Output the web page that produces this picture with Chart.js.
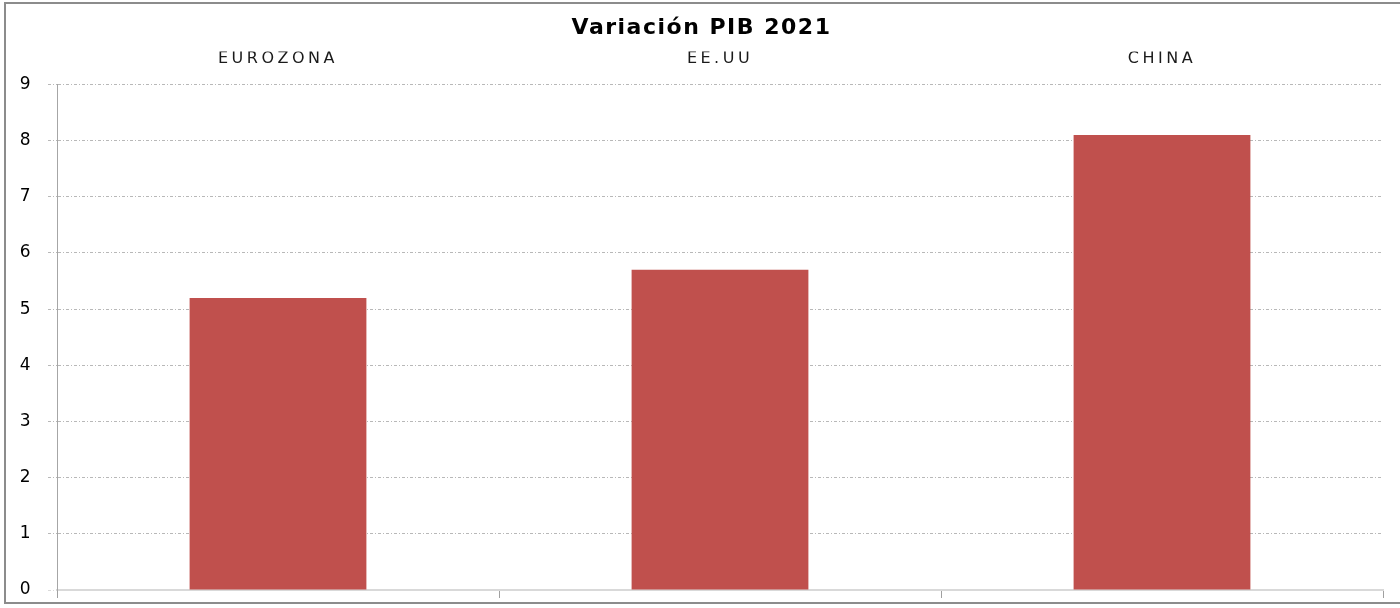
<!DOCTYPE html>
<html>
<head>
<meta charset="utf-8">
<title>Variación PIB 2021</title>
<script src="https://cdn.jsdelivr.net/npm/chart.js@4"></script>
<style>
    html, body { margin: 0; padding: 0; background: #fff; }
    #wrap { position: absolute; left: 0; top: 0; width: 1400px; height: 608px; }
    #frame {
        position: absolute; left: 4px; top: 2px; width: 1400px; height: 602px;
        border: 2px solid #8c8c8c; border-right: none; box-sizing: border-box;
        pointer-events: none;
    }
</style>
</head>
<body>
<div id="wrap">
    <canvas id="chart" width="1400" height="608"></canvas>
    <div id="frame"></div>
</div>
<script>
// ============================================
// Variación PIB 2021 - simple bar chart
// ============================================

const categories = ['EUROZONA', 'EE.UU', 'CHINA'];
const gdpChange = [5.2, 5.7, 8.1];
const yTicks = [0, 1, 2, 3, 4, 5, 6, 7, 8, 9];

const BAR_COLOR = '#C0504D';
const GRID_COLOR = '#b8b8b8';
const GRID_DASH = [3, 2, 1, 2];

// Letter spacing helper: title/y labels get a little, the top category labels more
const spacingPlugin = {
    id: 'spacing',
    beforeDraw(chart) {
        chart.ctx.letterSpacing = '1.5px';
    },
    afterDatasetsDraw(chart) {
        chart.ctx.letterSpacing = '3.5px';
    },
    afterDraw(chart) {
        chart.ctx.letterSpacing = '0px';
    }
};

const ctx = document.getElementById('chart').getContext('2d');

new Chart(ctx, {
    type: 'bar',
    data: {
        labels: categories,
        datasets: [{
            label: 'Variación PIB 2021',
            data: gdpChange,
            backgroundColor: BAR_COLOR,
            borderWidth: 0,
            barPercentage: 0.8,
            categoryPercentage: 0.5
        }]
    },
    options: {
        responsive: false,
        animation: false,
        devicePixelRatio: 1,
        layout: {
            padding: { left: 20, right: 17, top: 0, bottom: 10 }
        },
        scales: {
            x: {
                type: 'category',
                position: 'bottom',
                offset: true,
                afterFit: (scale) => { scale.height = 8; },
                grid: {
                    offset: true,
                    drawOnChartArea: false,
                    drawTicks: true,
                    tickLength: 8,
                    color: '#a0a0a0'
                },
                border: { display: true, color: '#d9d9d9', width: 2 },
                ticks: { display: false }
            },
            xTop: {
                type: 'category',
                position: 'top',
                offset: true,
                afterFit: (scale) => { scale.height = 33; },
                grid: { display: false, drawTicks: false },
                border: { display: false },
                ticks: {
                    z: 1,
                    padding: 16,
                    color: '#1a1a1a',
                    font: { family: 'DejaVu Sans', size: 16 }
                }
            },
            y: {
                min: 0,
                max: 9,
                afterBuildTicks: (scale) => {
                    scale.ticks = yTicks.map(v => ({ value: v }));
                },
                afterFit: (scale) => {
                    scale.width = 37;
                    scale.paddingTop = 0;
                    scale.paddingBottom = 0;
                },
                grid: {
                    color: (c) => (c.tick && c.tick.value === 0) ? '#d9d9d9' : GRID_COLOR,
                    tickBorderDash: GRID_DASH,
                    tickLength: 9
                },
                border: { display: true, color: '#a6a6a6', width: 1, dash: GRID_DASH },
                ticks: {
                    padding: 16,
                    color: '#000',
                    font: { family: 'DejaVu Sans', size: 17 }
                }
            }
        },
        plugins: {
            legend: { display: false },
            tooltip: { enabled: false },
            title: {
                display: true,
                text: 'Variación PIB 2021',
                color: '#000',
                font: { family: 'DejaVu Sans', size: 22, weight: 'bold' },
                padding: { top: 15, bottom: 10 }
            }
        }
    },
    plugins: [spacingPlugin]
});
</script>
</body>
</html>
